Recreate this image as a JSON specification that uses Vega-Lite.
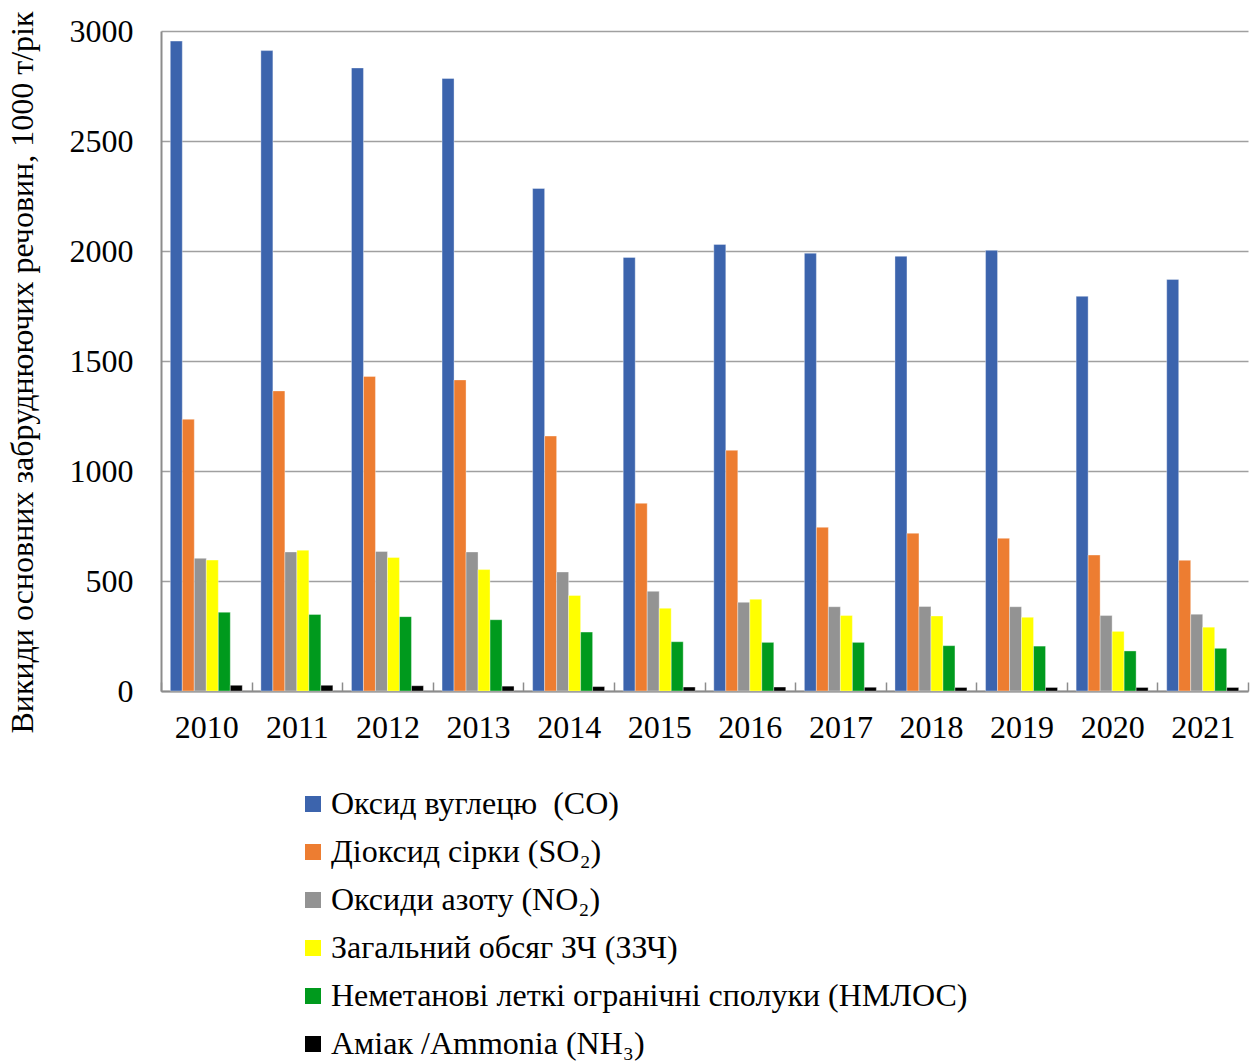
{
  "$schema": "https://vega.github.io/schema/vega-lite/v6.json",
  "autosize": {"type": "none"},
  "width": 1087,
  "height": 660,
  "padding": {"left": 161, "top": 31, "right": 4, "bottom": 370},
  "background": "white",
  "config": {
    "font": "Liberation Serif",
    "view": {"stroke": null},
    "axis": {"labelFont": "Liberation Serif", "titleFont": "Liberation Serif"},
    "legend": {"labelFont": "Liberation Serif", "titleFont": "Liberation Serif"}
  },
  "data": {
    "values": [
      {"year": "2010", "pollutant": "Оксид вуглецю  (CO)", "value": 2954},
      {"year": "2010", "pollutant": "Діоксид сірки (SO₂)", "value": 1235},
      {"year": "2010", "pollutant": "Оксиди азоту (NO₂)", "value": 603},
      {"year": "2010", "pollutant": "Загальний обсяг ЗЧ (ЗЗЧ)", "value": 595},
      {"year": "2010", "pollutant": "Неметанові леткі огранічні сполуки (НМЛОС)", "value": 358},
      {"year": "2010", "pollutant": "Аміак /Ammonia (NH₃)", "value": 26},
      {"year": "2011", "pollutant": "Оксид вуглецю  (CO)", "value": 2911},
      {"year": "2011", "pollutant": "Діоксид сірки (SO₂)", "value": 1364},
      {"year": "2011", "pollutant": "Оксиди азоту (NO₂)", "value": 632},
      {"year": "2011", "pollutant": "Загальний обсяг ЗЧ (ЗЗЧ)", "value": 640},
      {"year": "2011", "pollutant": "Неметанові леткі огранічні сполуки (НМЛОС)", "value": 348},
      {"year": "2011", "pollutant": "Аміак /Ammonia (NH₃)", "value": 26},
      {"year": "2012", "pollutant": "Оксид вуглецю  (CO)", "value": 2832},
      {"year": "2012", "pollutant": "Діоксид сірки (SO₂)", "value": 1430},
      {"year": "2012", "pollutant": "Оксиди азоту (NO₂)", "value": 634},
      {"year": "2012", "pollutant": "Загальний обсяг ЗЧ (ЗЗЧ)", "value": 607},
      {"year": "2012", "pollutant": "Неметанові леткі огранічні сполуки (НМЛОС)", "value": 338},
      {"year": "2012", "pollutant": "Аміак /Ammonia (NH₃)", "value": 24},
      {"year": "2013", "pollutant": "Оксид вуглецю  (CO)", "value": 2784},
      {"year": "2013", "pollutant": "Діоксид сірки (SO₂)", "value": 1414},
      {"year": "2013", "pollutant": "Оксиди азоту (NO₂)", "value": 632},
      {"year": "2013", "pollutant": "Загальний обсяг ЗЧ (ЗЗЧ)", "value": 552},
      {"year": "2013", "pollutant": "Неметанові леткі огранічні сполуки (НМЛОС)", "value": 324},
      {"year": "2013", "pollutant": "Аміак /Ammonia (NH₃)", "value": 22},
      {"year": "2014", "pollutant": "Оксид вуглецю  (CO)", "value": 2284},
      {"year": "2014", "pollutant": "Діоксид сірки (SO₂)", "value": 1159},
      {"year": "2014", "pollutant": "Оксиди азоту (NO₂)", "value": 541},
      {"year": "2014", "pollutant": "Загальний обсяг ЗЧ (ЗЗЧ)", "value": 434},
      {"year": "2014", "pollutant": "Неметанові леткі огранічні сполуки (НМЛОС)", "value": 268},
      {"year": "2014", "pollutant": "Аміак /Ammonia (NH₃)", "value": 20},
      {"year": "2015", "pollutant": "Оксид вуглецю  (CO)", "value": 1971},
      {"year": "2015", "pollutant": "Діоксид сірки (SO₂)", "value": 853},
      {"year": "2015", "pollutant": "Оксиди азоту (NO₂)", "value": 453},
      {"year": "2015", "pollutant": "Загальний обсяг ЗЧ (ЗЗЧ)", "value": 376},
      {"year": "2015", "pollutant": "Неметанові леткі огранічні сполуки (НМЛОС)", "value": 224},
      {"year": "2015", "pollutant": "Аміак /Ammonia (NH₃)", "value": 18},
      {"year": "2016", "pollutant": "Оксид вуглецю  (CO)", "value": 2030},
      {"year": "2016", "pollutant": "Діоксид сірки (SO₂)", "value": 1094},
      {"year": "2016", "pollutant": "Оксиди азоту (NO₂)", "value": 403},
      {"year": "2016", "pollutant": "Загальний обсяг ЗЧ (ЗЗЧ)", "value": 417},
      {"year": "2016", "pollutant": "Неметанові леткі огранічні сполуки (НМЛОС)", "value": 221},
      {"year": "2016", "pollutant": "Аміак /Ammonia (NH₃)", "value": 18},
      {"year": "2017", "pollutant": "Оксид вуглецю  (CO)", "value": 1990},
      {"year": "2017", "pollutant": "Діоксид сірки (SO₂)", "value": 744},
      {"year": "2017", "pollutant": "Оксиди азоту (NO₂)", "value": 383},
      {"year": "2017", "pollutant": "Загальний обсяг ЗЧ (ЗЗЧ)", "value": 343},
      {"year": "2017", "pollutant": "Неметанові леткі огранічні сполуки (НМЛОС)", "value": 221},
      {"year": "2017", "pollutant": "Аміак /Ammonia (NH₃)", "value": 17},
      {"year": "2018", "pollutant": "Оксид вуглецю  (CO)", "value": 1976},
      {"year": "2018", "pollutant": "Діоксид сірки (SO₂)", "value": 717},
      {"year": "2018", "pollutant": "Оксиди азоту (NO₂)", "value": 384},
      {"year": "2018", "pollutant": "Загальний обсяг ЗЧ (ЗЗЧ)", "value": 341},
      {"year": "2018", "pollutant": "Неметанові леткі огранічні сполуки (НМЛОС)", "value": 206},
      {"year": "2018", "pollutant": "Аміак /Ammonia (NH₃)", "value": 16},
      {"year": "2019", "pollutant": "Оксид вуглецю  (CO)", "value": 2003},
      {"year": "2019", "pollutant": "Діоксид сірки (SO₂)", "value": 694},
      {"year": "2019", "pollutant": "Оксиди азоту (NO₂)", "value": 383},
      {"year": "2019", "pollutant": "Загальний обсяг ЗЧ (ЗЗЧ)", "value": 335},
      {"year": "2019", "pollutant": "Неметанові леткі огранічні сполуки (НМЛОС)", "value": 204},
      {"year": "2019", "pollutant": "Аміак /Ammonia (NH₃)", "value": 16},
      {"year": "2020", "pollutant": "Оксид вуглецю  (CO)", "value": 1794},
      {"year": "2020", "pollutant": "Діоксид сірки (SO₂)", "value": 618},
      {"year": "2020", "pollutant": "Оксиди азоту (NO₂)", "value": 343},
      {"year": "2020", "pollutant": "Загальний обсяг ЗЧ (ЗЗЧ)", "value": 271},
      {"year": "2020", "pollutant": "Неметанові леткі огранічні сполуки (НМЛОС)", "value": 182},
      {"year": "2020", "pollutant": "Аміак /Ammonia (NH₃)", "value": 16},
      {"year": "2021", "pollutant": "Оксид вуглецю  (CO)", "value": 1871},
      {"year": "2021", "pollutant": "Діоксид сірки (SO₂)", "value": 594},
      {"year": "2021", "pollutant": "Оксиди азоту (NO₂)", "value": 349},
      {"year": "2021", "pollutant": "Загальний обсяг ЗЧ (ЗЗЧ)", "value": 290},
      {"year": "2021", "pollutant": "Неметанові леткі огранічні сполуки (НМЛОС)", "value": 194},
      {"year": "2021", "pollutant": "Аміак /Ammonia (NH₃)", "value": 16}
    ]
  },
  "mark": {"type": "bar", "stroke": "white", "strokeWidth": 0.6, "strokeOpacity": 0.6},
  "encoding": {
    "x": {
      "field": "year",
      "type": "nominal",
      "scale": {"paddingInner": 0, "paddingOuter": 0},
      "axis": {
        "title": null,
        "labelAngle": 0,
        "labelFont": "Liberation Serif",
        "labelFontSize": 32,
        "labelColor": "black",
        "labelPadding": 30,
        "domainColor": "#8c8c8c",
        "domainWidth": 2,
        "tickColor": "#8c8c8c",
        "tickWidth": 1.5,
        "tickSize": -9,
        "tickBand": "extent",
        "grid": false
      }
    },
    "xOffset": {
      "field": "pollutant",
      "type": "nominal",
      "sort": [
        "Оксид вуглецю  (CO)",
        "Діоксид сірки (SO₂)",
        "Оксиди азоту (NO₂)",
        "Загальний обсяг ЗЧ (ЗЗЧ)",
        "Неметанові леткі огранічні сполуки (НМЛОС)",
        "Аміак /Ammonia (NH₃)"
      ],
      "scale": {"paddingInner": 0, "paddingOuter": 0.775}
    },
    "y": {
      "field": "value",
      "type": "quantitative",
      "scale": {"domain": [0, 3000], "nice": false},
      "axis": {
        "values": [0, 500, 1000, 1500, 2000, 2500, 3000],
        "format": "d",
        "title": "Викиди основних забруднюючих речовин, 1000 т/рік",
        "titleFont": "Liberation Serif",
        "titleFontSize": 32,
        "titleFontWeight": "normal",
        "titleColor": "black",
        "titleAngle": -90,
        "titleAlign": "center",
        "titleBaseline": "middle",
        "titleX": -139,
        "titleY": 341,
        "labelFont": "Liberation Serif",
        "labelFontSize": 32,
        "labelColor": "black",
        "labelPadding": 28,
        "ticks": false,
        "domainColor": "#8c8c8c",
        "domainWidth": 2,
        "grid": true,
        "gridColor": "#a0a0a0",
        "gridWidth": 1.5
      }
    },
    "color": {
      "field": "pollutant",
      "type": "nominal",
      "sort": [
        "Оксид вуглецю  (CO)",
        "Діоксид сірки (SO₂)",
        "Оксиди азоту (NO₂)",
        "Загальний обсяг ЗЧ (ЗЗЧ)",
        "Неметанові леткі огранічні сполуки (НМЛОС)",
        "Аміак /Ammonia (NH₃)"
      ],
      "scale": {
        "domain": [
          "Оксид вуглецю  (CO)",
          "Діоксид сірки (SO₂)",
          "Оксиди азоту (NO₂)",
          "Загальний обсяг ЗЧ (ЗЗЧ)",
          "Неметанові леткі огранічні сполуки (НМЛОС)",
          "Аміак /Ammonia (NH₃)"
        ],
        "range": ["#3c64ad", "#ed7d31", "#939393", "#ffff00", "#009a1d", "#000000"]
      },
      "legend": {
        "title": null,
        "orient": "none",
        "legendX": 136,
        "legendY": 757,
        "symbolType": "square",
        "symbolSize": 256,
        "symbolStrokeWidth": 0,
        "labelFont": "Liberation Serif",
        "labelFontSize": 32,
        "labelColor": "black",
        "labelLimit": 900,
        "labelOffset": 2,
        "rowPadding": 16,
        "labelExpr": "datum.label == 'Оксид вуглецю  (CO)' ? 'Оксид вуглецю \u00a0(CO)' : datum.label"
      }
    }
  }
}
